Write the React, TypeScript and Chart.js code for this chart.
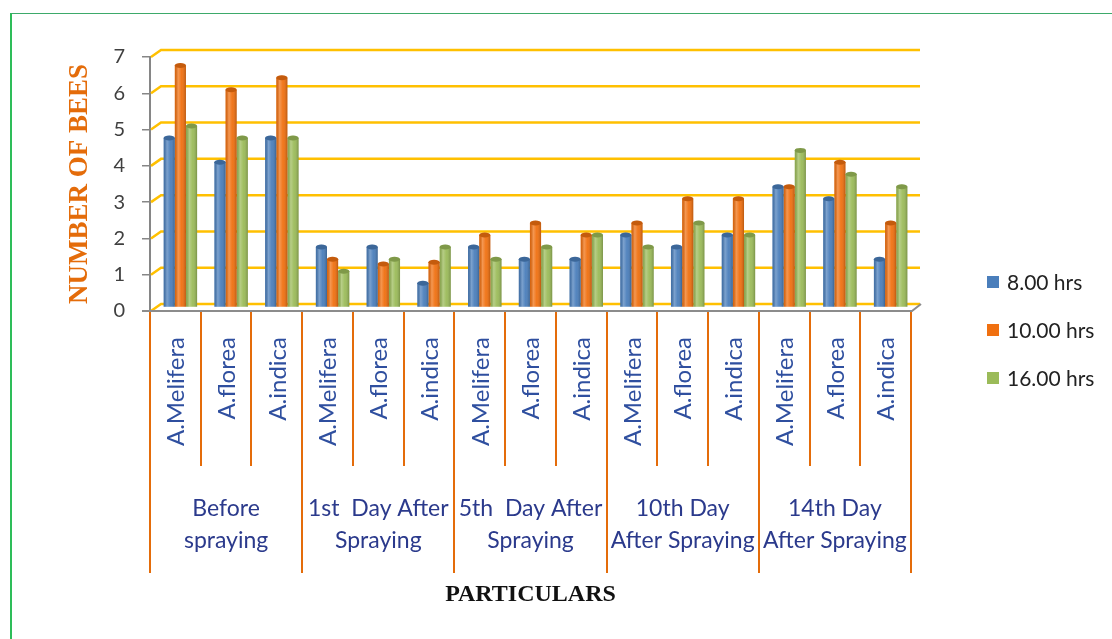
import React, { useEffect, useRef } from "react";
import { Chart, registerables } from "chart.js";

Chart.register(...registerables);

const species = ["A.Melifera", "A.florea", "A.indica"];
const groupLabels = [
  ["Before", "spraying"],
  ["1st  Day After", "Spraying"],
  ["5th  Day After", "Spraying"],
  ["10th Day", "After Spraying"],
  ["14th Day", "After Spraying"],
];
const categories = groupLabels.flatMap(() => species);

const seriesNames = ["8.00 hrs", "10.00 hrs", "16.00 hrs"];
const hrs8 = [4.67, 4.0, 4.67, 1.67, 1.67, 0.67, 1.67, 1.33, 1.33, 2.0, 1.67, 2.0, 3.33, 3.0, 1.33];
const hrs10 = [6.67, 6.0, 6.33, 1.33, 1.2, 1.25, 2.0, 2.33, 2.0, 2.33, 3.0, 3.0, 3.33, 4.0, 2.33];
const hrs16 = [5.0, 4.67, 4.67, 1.0, 1.33, 1.67, 1.33, 1.67, 2.0, 1.67, 2.33, 2.0, 4.33, 3.67, 3.33];
const seriesColors = ["#4A7EBB", "#F07010", "#9BBB59"];

const yMin = 0;
const yMax = 7;
const yStep = 1;

const decorPlugin = {
  id: "decor",
  beforeDatasetsDraw(chart: any) {
    const { ctx, chartArea } = chart;
    const ys = chart.scales.y;
    ctx.save();
    // gridlines with perspective slant
    ctx.strokeStyle = "#FFC000";
    ctx.lineWidth = 2.5;
    for (let v = yMin; v <= yMax; v += yStep) {
      const y = ys.getPixelForValue(v);
      ctx.beginPath();
      ctx.moveTo(chartArea.left + 1, y);
      ctx.lineTo(chartArea.left + 11, y - 7);
      ctx.lineTo(chartArea.right + 9, y - 7);
      ctx.stroke();
    }
    ctx.restore();
    // bars sit at mid depth of the 3D floor
    ctx.save();
    ctx.translate(5, -3.5);
  },
  afterDatasetsDraw(chart: any) {
    const { ctx, chartArea } = chart;
    // cylinder shading over bars (still in translated space)
    chart.data.datasets.forEach((ds: any, di: number) => {
      const meta = chart.getDatasetMeta(di);
      meta.data.forEach((bar: any) => {
        const { x, y, base, width } = bar.getProps(["x", "y", "base", "width"], true);
        const l = x - width / 2;
        const g = ctx.createLinearGradient(l, 0, l + width, 0);
        g.addColorStop(0, "rgba(0,0,0,0.10)");
        g.addColorStop(0.3, "rgba(255,255,255,0.28)");
        g.addColorStop(0.6, "rgba(255,255,255,0.05)");
        g.addColorStop(1, "rgba(0,0,0,0.22)");
        ctx.fillStyle = g;
        ctx.fillRect(l, y, width, base - y);
        ctx.beginPath();
        ctx.ellipse(x, y, width / 2, 2.5, 0, 0, Math.PI * 2);
        ctx.fillStyle = ds.backgroundColor;
        ctx.fill();
        ctx.fillStyle = "rgba(0,0,0,0.18)";
        ctx.fill();
      });
    });
    ctx.restore();
    ctx.save();
    // floor
    const y0 = chart.scales.y.getPixelForValue(0);
    ctx.strokeStyle = "#8C8C8C";
    ctx.lineWidth = 2;
    ctx.beginPath();
    ctx.moveTo(chartArea.left - 8, y0);
    ctx.lineTo(chartArea.right + 1, y0);
    ctx.lineTo(chartArea.right + 10, y0 - 7);
    ctx.stroke();
    ctx.restore();
  },
  afterDraw(chart: any) {
    const { ctx, chartArea } = chart;
    const xs = chart.scales.x;
    const y0 = chart.scales.y.getPixelForValue(0);
    const n = categories.length;
    const cw = (chartArea.right - chartArea.left) / n;
    ctx.save();
    // separators
    ctx.strokeStyle = "#E46C0A";
    ctx.lineWidth = 2;
    for (let i = 0; i <= n; i++) {
      const x = Math.round(chartArea.left + i * cw);
      ctx.beginPath();
      ctx.moveTo(x, y0 + 1);
      ctx.lineTo(x, i % species.length === 0 ? 573 : 466);
      ctx.stroke();
    }
    // rotated species labels
    ctx.fillStyle = "#2F4F9F";
    ctx.font = "24px Lato";
    ctx.textAlign = "right";
    ctx.textBaseline = "middle";
    categories.forEach((c, i) => {
      const x = xs.getPixelForValue(i);
      ctx.save();
      ctx.translate(x + 1, 337);
      ctx.rotate(-Math.PI / 2);
      ctx.fillText(c, 0, 0);
      ctx.restore();
    });
    // group labels
    ctx.fillStyle = "#2B3A8C";
    ctx.font = "23px Lato";
    ctx.textAlign = "center";
    groupLabels.forEach((lines, gi) => {
      const cx = chartArea.left + (gi * 3 + 1.5) * cw;
      lines.forEach((t, li) => ctx.fillText(t, cx, 509 + li * 32));
    });
    // x title
    ctx.fillStyle = "#111";
    ctx.font = "bold 24px 'Liberation Serif'";
    ctx.fillText("PARTICULARS", (chartArea.left + chartArea.right) / 2, 595);
    // legend
    ctx.textAlign = "left";
    ctx.font = "21px Lato";
    chart.data.datasets.forEach((ds: any, i: number) => {
      const yc = 282 + i * 48;
      ctx.fillStyle = ds.backgroundColor;
      ctx.fillRect(987, yc - 6, 12, 12);
      ctx.fillStyle = "#222";
      ctx.fillText(ds.label, 1007, yc + 1);
    });
    ctx.restore();
  },
};

export default function App() {
  const ref = useRef<HTMLCanvasElement>(null);
  useEffect(() => {
    if (!ref.current) return;
    const chart = new Chart(ref.current, {
      type: "bar",
      data: {
        labels: categories,
        datasets: [hrs8, hrs10, hrs16].map((d, i) => ({
          label: seriesNames[i],
          data: d,
          backgroundColor: seriesColors[i],
          borderWidth: 0,
          categoryPercentage: 0.66,
          barPercentage: 1.0,
        })),
      },
      options: {
        responsive: false,
        animation: false,
        layout: { padding: { top: 57, right: 201, bottom: 328, left: 0 } },
        plugins: { legend: { display: false }, tooltip: { enabled: false } },
        scales: {
          x: {
            ticks: { display: false },
            grid: { display: false },
            border: { display: false },
            afterFit: (s: any) => {
              s.height = 0;
            },
          },
          y: {
            min: yMin,
            max: yMax,
            ticks: {
              stepSize: yStep,
              padding: 17,
              color: "#404040",
              font: { family: "Lato", size: 20 },
            },
            grid: {
              drawOnChartArea: false,
              drawTicks: true,
              tickLength: 8,
              color: "#868686",
              lineWidth: 1.5,
            },
            border: { color: "#868686", width: 2 },
            title: {
              display: true,
              text: "NUMBER OF BEES",
              color: "#E46C0A",
              font: { family: "'Liberation Serif'", size: 27, weight: "bold" },
              padding: { top: 64, bottom: 0 },
            },
            afterFit: (s: any) => {
              s.width = 150;
            },
          },
        },
      },
      plugins: [decorPlugin],
    });
    return () => chart.destroy();
  }, []);

  return (
    <div style={{ position: "fixed", left: 0, top: 0, width: 1112, height: 639, background: "#fff" }}>
      <div
        style={{
          position: "absolute",
          left: 10,
          top: 13,
          right: 0,
          bottom: 0,
          borderLeft: "2px solid #2EBD59",
          borderTop: "1px solid #3DAA6A",
        }}
      />
      <canvas ref={ref} width={1112} height={639} style={{ position: "absolute", left: 0, top: 0 }} />
    </div>
  );
}
